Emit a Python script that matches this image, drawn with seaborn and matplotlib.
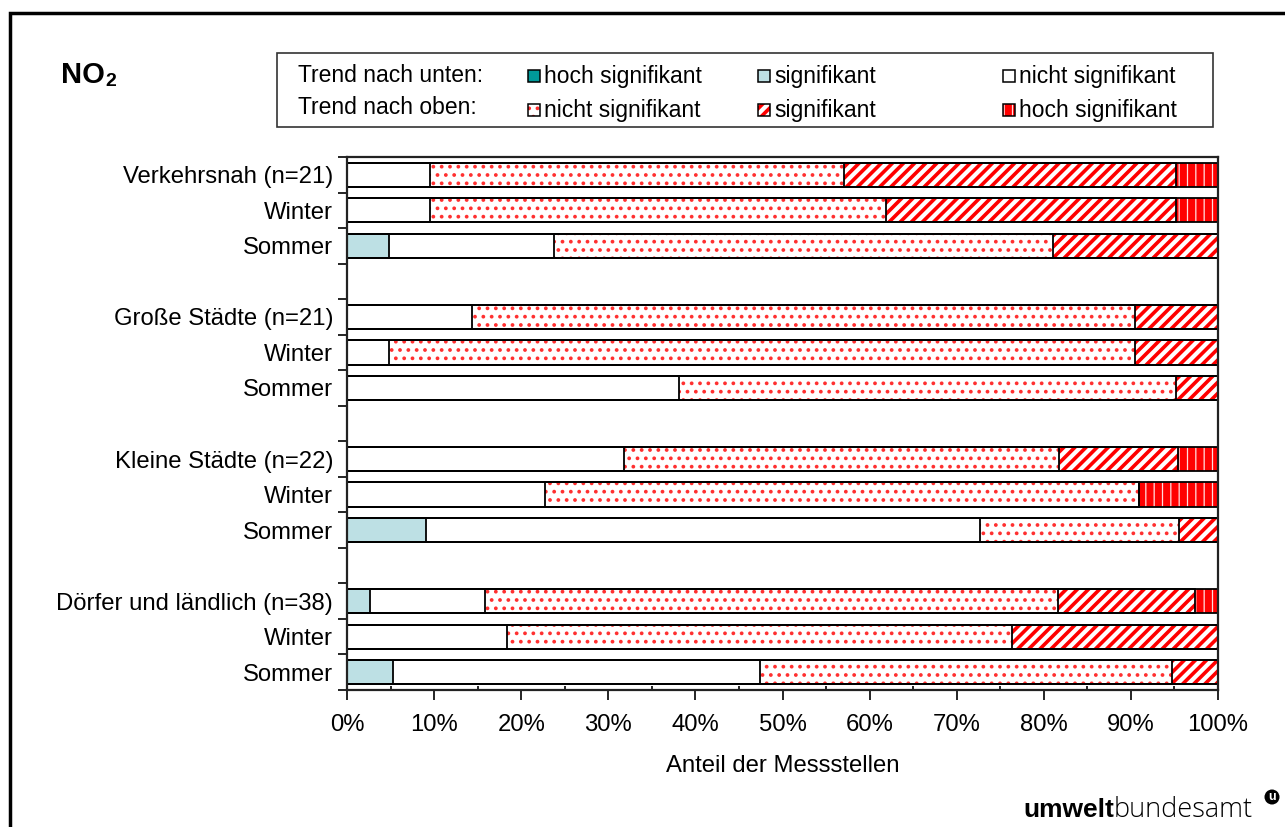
import numpy as np
import pandas as pd
import matplotlib.pyplot as plt
import seaborn as sns
from matplotlib.patches import Rectangle, Ellipse
from matplotlib.ticker import MultipleLocator, PercentFormatter

plt.rcParams['font.family'] = ['Liberation Sans', 'DejaVu Sans']

# Zeilen (leere Zeilen = Abstand zwischen den Gruppen)
labels = ['Verkehrsnah (n=21)', 'Winter', 'Sommer', '',
          'Große Städte (n=21)', 'Winter', 'Sommer', '',
          'Kleine Städte (n=22)', 'Winter', 'Sommer', '',
          'Dörfer und ländlich (n=38)', 'Winter', 'Sommer']

# Anteile in %, None = leere Zeile
down_hoch = [0, 0, 0, None, 0, 0, 0, None, 0, 0, 0, None, 0, 0, 0]
down_sig = [0, 0, 4.8, None, 0, 0, 0, None, 0, 0, 9.1, None, 2.6, 0, 5.3]
down_nicht = [9.5, 9.5, 19.0, None, 14.3, 4.8, 38.1, None, 31.8, 22.7, 63.6, None, 13.2, 18.4, 42.1]
up_nicht = [47.6, 52.4, 57.2, None, 76.2, 85.7, 57.1, None, 50.0, 68.2, 22.8, None, 65.8, 57.9, 47.3]
up_sig = [38.1, 33.3, 19.0, None, 9.5, 9.5, 4.8, None, 13.6, 0, 4.5, None, 15.8, 23.7, 5.3]
up_hoch = [4.8, 4.8, 0, None, 0, 0, 0, None, 4.6, 9.1, 0, None, 2.6, 0, 0]

segments = [down_hoch, down_sig, down_nicht, up_nicht, up_sig, up_hoch]
# face, hatch, hatch colour, hatch linewidth
styles = [('#009999', '', '#009999', 1.0),
          ('#BDE0E4', '', '#BDE0E4', 1.0),
          ('white', '', 'white', 1.0),
          ('white', '..', '#FF3030', 1.5),
          ('white', '///', '#FF0000', 2.6),
          ('#FF0000', '||', '#FFDDDD', 0.9)]

W, H = 1285, 827
fig = plt.figure(figsize=(W / 100, H / 100), dpi=100)
ax = fig.add_axes([347 / W, 1 - 690 / H, (1218 - 347) / W, (690 - 157) / H])

slots = [f'r{i}' for i in range(len(labels))]
rows = [i for i in range(len(labels)) if down_nicht[i] is not None]
vals = np.array([[s[i] for s in segments] for i in rows], dtype=float)
cum = vals.cumsum(axis=1)


def style_patches(patches, face, hatch, hcol, hlw, edge=None):
    for p in patches:
        if edge is None:
            p.set_facecolor(face)
            p.set_edgecolor(hcol)
            p.set_linewidth(0)
            p.set_hatch(hatch)
            if hasattr(p, 'set_hatch_linewidth'):
                p.set_hatch_linewidth(hlw)
        else:
            p.set_facecolor('none')
            p.set_edgecolor(edge)
            p.set_linewidth(1.3)


# gefüllte Segmente von rechts nach links übereinander
for k in reversed(range(len(segments))):
    face, hatch, hcol, hlw = styles[k]
    df = pd.DataFrame({'slot': [slots[i] for i in rows], 'wert': cum[:, k]})
    n0 = len(ax.patches)
    with plt.rc_context({'hatch.linewidth': hlw}):
        sns.barplot(data=df, x='wert', y='slot', order=slots, orient='h',
                    width=0.68, color=face, saturation=1, errorbar=None, ax=ax)
        style_patches(ax.patches[n0:], face, hatch, hcol, hlw)

# schwarze Umrisse
for k in range(len(segments)):
    df = pd.DataFrame({'slot': [slots[i] for i in rows], 'wert': cum[:, k]})
    n0 = len(ax.patches)
    sns.barplot(data=df, x='wert', y='slot', order=slots, orient='h',
                width=0.68, color='white', saturation=1, errorbar=None, ax=ax)
    style_patches(ax.patches[n0:], None, None, None, None, edge='black')

ax.set_xlim(0, 100)
ax.set_ylim(len(labels) - 0.5, -0.5)
ax.xaxis.set_major_locator(MultipleLocator(10))
ax.xaxis.set_minor_locator(MultipleLocator(5))
ax.xaxis.set_major_formatter(PercentFormatter(100, decimals=0))
ax.tick_params(axis='x', which='major', direction='out', length=7, width=1.2,
               labelsize=17.2, pad=10)
ax.tick_params(axis='x', which='minor', direction='in', length=3, width=1.2)

ax.set_yticks(np.arange(-0.5, len(labels), 1))
ax.set_yticklabels([])
ax.set_yticks(range(len(labels)), minor=True)
ax.set_yticklabels(labels, minor=True)
ax.tick_params(axis='y', which='major', direction='out', length=6.5, width=1.2)
ax.tick_params(axis='y', which='minor', length=0, labelsize=17.2, pad=10)

for sp in ax.spines.values():
    sp.set_linewidth(1.6)
    sp.set_color('#222222')

ax.set_xlabel('Anteil der Messstellen', fontsize=17.2, labelpad=14)
ax.set_ylabel('')

# Rahmen um die Grafik
fig.add_artist(Rectangle((10 / W, -0.1), 1.5, (1 - 13 / H) + 0.1,
                         transform=fig.transFigure, fill=False,
                         edgecolor='black', linewidth=2.5))

# Titel
t0 = fig.text(61 / W, 1 - 75 / H, 'NO', fontsize=21, fontweight='bold', va='center')
fig.canvas.draw()
fig.text(t0.get_window_extent().x1 / W, 1 - 82 / H, '2', fontsize=14,
         fontweight='bold', va='center')

# Legende
fig.add_artist(Rectangle((277 / W, 1 - 127 / H), (1213 - 277) / W, 74 / H,
                         transform=fig.transFigure, fill=False,
                         edgecolor='#333333', linewidth=1.2))
fig.text(298 / W, 1 - 76 / H, 'Trend nach unten:', fontsize=16.5, va='center')
fig.text(298 / W, 1 - 108 / H, 'Trend nach oben:', fontsize=16.5, va='center')

leg_items = [
    (528, 76, 0, 'hoch signifikant'),
    (758, 76, 1, 'signifikant'),
    (1003, 76, 2, 'nicht signifikant'),
    (528, 110, 3, 'nicht signifikant'),
    (758, 110, 4, 'signifikant'),
    (1003, 110, 5, 'hoch signifikant'),
]
for x, y, k, txt in leg_items:
    face, hatch, hcol, hlw = styles[k]
    with plt.rc_context({'hatch.linewidth': hlw}):
        r = Rectangle((x / W, 1 - (y + 6) / H), 12 / W, 12 / H,
                      transform=fig.transFigure, facecolor=face,
                      edgecolor=hcol, linewidth=0, hatch=hatch or None)
        fig.add_artist(r)
    fig.add_artist(Rectangle((x / W, 1 - (y + 6) / H), 12 / W, 12 / H,
                             transform=fig.transFigure, fill=False,
                             edgecolor='black', linewidth=1.1))
    fig.text((x + 16) / W, 1 - y / H, txt, fontsize=16.5, va='center')

# Logo
t1 = fig.text(1023 / W, 1 - 817 / H, 'umwelt', fontsize=19, fontweight='bold',
              va='baseline')
fig.canvas.draw()
bb = t1.get_window_extent()
fig.text(bb.x1 / W, 1 - 817 / H, 'bundesamt', fontsize=19.5,
         family='Open Sans', fontweight='light', va='baseline')
fig.add_artist(Ellipse((1272 / W, 1 - 797 / H), 15 / W, 15 / H,
                       transform=fig.transFigure, facecolor='black',
                       edgecolor='none'))
fig.text(1272 / W, 1 - 797.5 / H, 'u', fontsize=9, fontweight='bold', color='white',
         ha='center', va='center')

fig.savefig('out.png', dpi=100)
